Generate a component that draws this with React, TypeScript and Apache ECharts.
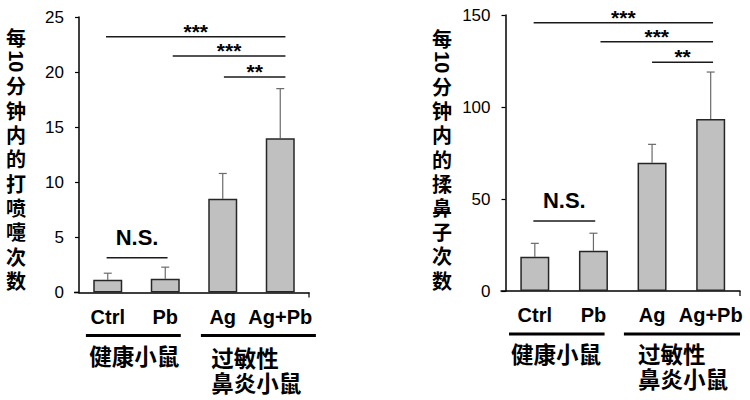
import React, { useEffect, useRef } from 'react';
import * as echarts from 'echarts';

// ---------- data ----------
const categories = ['Ctrl', 'Pb', 'Ag', 'Ag+Pb'];
const groupLabels = ['健康小鼠', '过敏性\n鼻炎小鼠'];

const sneezeTitle = '每10分钟内的打喷嚏次数';
const sneezeMeans = [1.15, 1.25, 8.5, 14.0];
const sneezeUpper = [1.75, 2.3, 10.8, 18.5];
const sneezeAxis = { min: 0, max: 25, interval: 5 };
// [from, to, y, label]
const sneezeSig: [number, number, number, string][] = [
  [-0.03, 3.09, 23.2, '***'],
  [1.13, 3.09, 21.45, '***'],
  [2.02, 3.09, 19.55, '**'],
  [-0.02, 1.04, 3.15, 'N.S.'],
];

const rubTitle = '每10分钟内的揉鼻子次数';
const rubMeans = [18.6, 21.9, 69.7, 93.5];
const rubUpper = [25.9, 31.4, 79.7, 119];
const rubAxis = { min: 0, max: 150, interval: 50 };
const rubSig: [number, number, number, string][] = [
  [-0.02, 3.04, 145.8, '***'],
  [1.12, 3.04, 135.5, '***'],
  [2.0, 3.04, 124.3, '**'],
  [-0.025, 1.03, 38, 'N.S.'],
];

// ---------- layout ----------
const LATIN = '"Liberation Sans", Arial, "Noto Sans CJK SC", sans-serif';
const CJK = '"Noto Sans CJK SC", "Liberation Sans", sans-serif';

const layouts = [
  {
    grid: { left: 79, top: 17, width: 230, height: 275.5 },
    titleX: 16,
    titleTop: 37,
    titlePitch: 24.36,
    groupLines: [[-0.38, 1.27], [1.62, 3.62]],
    groupLabelPos: [{ x: 0.46, align: 'center' }, { x: 1.8, align: 'left' }],
    twoLineTop: 51.5,
  },
  {
    grid: { left: 505.5, top: 15, width: 234.5, height: 276 },
    titleX: 442,
    titleTop: 38,
    titlePitch: 24.2,
    groupLines: [[-0.44, 1.19], [1.52, 3.5]],
    groupLabelPos: [{ x: 0.36, align: 'center' }, { x: 1.76, align: 'left' }],
    twoLineTop: 49.5,
  },
];

function titleElements(text: string, cx: number, top: number, pitch: number) {
  const tokens = text.match(/[0-9A-Za-z]+|./g) || [];
  return tokens.map((t, i) => {
    const latin = /^[0-9A-Za-z]+$/.test(t);
    return {
      type: 'group',
      x: cx,
      y: top + i * pitch,
      rotation: latin ? -Math.PI / 2 : 0,
      children: [
        {
          type: 'text',
          style: {
            text: t,
            x: 0,
            y: 0,
            fill: '#000',
            fontSize: 20,
            lineHeight: 20,
            fontWeight: 'bold',
            fontFamily: latin ? LATIN : CJK,
            align: 'center',
            verticalAlign: 'middle',
          },
        },
      ],
    };
  });
}

function buildPanel(idx: number, means: number[], upper: number[], sig: [number, number, number, string][], axis: any, title: string) {
  const L = layouts[idx];
  const xAxes = [
    {
      type: 'category',
      gridIndex: idx,
      data: categories,
      axisLine: { onZero: false, lineStyle: { color: '#000', width: 1.5 } },
      axisTick: { alignWithLabel: true, length: 5, lineStyle: { color: '#000', width: 1.2 } },
      axisLabel: { interval: 0, color: '#000', fontSize: 20, fontWeight: 'bold', fontFamily: LATIN, margin: 14 },
    },
    { type: 'value', gridIndex: idx, min: -0.5, max: 3.5, show: false },
  ];
  const yAxis = {
    type: 'value',
    gridIndex: idx,
    min: axis.min,
    max: axis.max,
    interval: axis.interval,
    axisLine: { show: true, onZero: false, lineStyle: { color: '#000', width: 1.5 } },
    axisTick: { show: true, length: 4, lineStyle: { color: '#000', width: 1.2 } },
    axisLabel: { color: '#000', fontSize: 17, fontFamily: LATIN, margin: 15 },
    splitLine: { show: false },
  };
  const xi = idx * 2;
  const series = [
    {
      type: 'custom',
      name: 'err' + idx,
      xAxisIndex: xi,
      yAxisIndex: idx,
      data: means.map((m, i) => [i, m, upper[i]]),
      renderItem: (params: any, api: any) => {
        const p0 = api.coord([api.value(0), api.value(1)]);
        const p1 = api.coord([api.value(0), api.value(2)]);
        const st = { stroke: '#6a6a6a', lineWidth: 1.2 };
        return {
          type: 'group',
          children: [
            { type: 'line', shape: { x1: p0[0], y1: p0[1], x2: p1[0], y2: p1[1] }, style: st },
            { type: 'line', shape: { x1: p1[0] - 4, y1: p1[1], x2: p1[0] + 4, y2: p1[1] }, style: st },
          ],
        };
      },
      z: 1,
    },
    {
      type: 'bar',
      name: 'bar' + idx,
      xAxisIndex: xi,
      yAxisIndex: idx,
      data: means,
      barWidth: 29,
      itemStyle: { color: '#c0c0c0', borderColor: '#262626', borderWidth: 1.5 },
      z: 2,
    },
    {
      type: 'custom',
      name: 'sig' + idx,
      xAxisIndex: xi + 1,
      yAxisIndex: idx,
      data: sig.map((s) => [s[0], s[2]]),
      renderItem: (params: any, api: any) => {
        const s = sig[params.dataIndex];
        const a = api.coord([s[0], s[2]]);
        const b = api.coord([s[1], s[2]]);
        const ns = s[3] === 'N.S.';
        return {
          type: 'group',
          children: [
            { type: 'line', shape: { x1: a[0], y1: a[1], x2: b[0], y2: b[1] }, style: { stroke: '#1a1a1a', lineWidth: 1.5 } },
            {
              type: 'text',
              x: (a[0] + b[0]) / 2,
              y: a[1] + (ns ? -20.5 : -5.5),
              style: {
                text: s[3],
                fill: '#000',
                fontSize: ns ? 22 : 21,
                fontWeight: 'bold',
                fontFamily: LATIN,
                align: 'center',
                verticalAlign: 'middle',
              },
            },
          ],
        };
      },
      z: 3,
    },
    {
      type: 'custom',
      name: 'grp' + idx,
      xAxisIndex: xi + 1,
      yAxisIndex: idx,
      data: [[0, 0]],
      clip: false,
      renderItem: (params: any, api: any) => {
        const origin = api.coord([-0.5, 0]);
        const end = api.coord([3.5, 0]);
        const y0 = origin[1];
        const children: any[] = [
          { type: 'line', shape: { x1: origin[0] - 5, y1: y0, x2: origin[0], y2: y0 }, style: { stroke: '#000', lineWidth: 1.5 } },
          { type: 'line', shape: { x1: end[0], y1: y0, x2: end[0], y2: y0 + 5 }, style: { stroke: '#000', lineWidth: 1.2 } },
        ];
        L.groupLines.forEach((g) => {
          const a = api.coord([g[0], 0]);
          const b = api.coord([g[1], 0]);
          children.push({ type: 'line', shape: { x1: a[0], y1: y0 + 43, x2: b[0], y2: y0 + 43 }, style: { stroke: '#000', lineWidth: 3 } });
        });
        groupLabels.forEach((t, gi) => {
          const pos = L.groupLabelPos[gi];
          const p = api.coord([pos.x, 0]);
          const twoLine = t.indexOf('\n') >= 0;
          children.push({
            type: 'text',
            x: p[0],
            y: twoLine ? y0 + L.twoLineTop : y0 + 62,
            style: {
              text: t,
              fill: '#000',
              fontSize: 22.5,
              fontWeight: 'bold',
              fontFamily: CJK,
              align: pos.align,
              verticalAlign: twoLine ? 'top' : 'middle',
              lineHeight: 25,
            },
          });
        });
        titleElements(title, L.titleX, L.titleTop, L.titlePitch).forEach((e) => children.push(e));
        return { type: 'group', children };
      },
      z: 3,
    },
  ];
  return { xAxes, yAxis, series };
}

export default function App() {
  const ref = useRef<HTMLDivElement>(null);
  useEffect(() => {
    if (!ref.current) return;
    const chart = echarts.init(ref.current, undefined, { renderer: 'svg' });
    const p0 = buildPanel(0, sneezeMeans, sneezeUpper, sneezeSig, sneezeAxis, sneezeTitle);
    const p1 = buildPanel(1, rubMeans, rubUpper, rubSig, rubAxis, rubTitle);
    chart.setOption({
      animation: false,
      backgroundColor: '#fff',
      textStyle: { fontFamily: LATIN },
      grid: layouts.map((l) => ({ ...l.grid, containLabel: false })),
      xAxis: [...p0.xAxes, ...p1.xAxes],
      yAxis: [p0.yAxis, p1.yAxis],
      series: [...p0.series, ...p1.series],
    });
    return () => chart.dispose();
  }, []);
  return (
    <div
      ref={ref}
      style={{ position: 'absolute', left: 0, top: 0, width: 750, height: 400, background: '#fff' }}
    />
  );
}
